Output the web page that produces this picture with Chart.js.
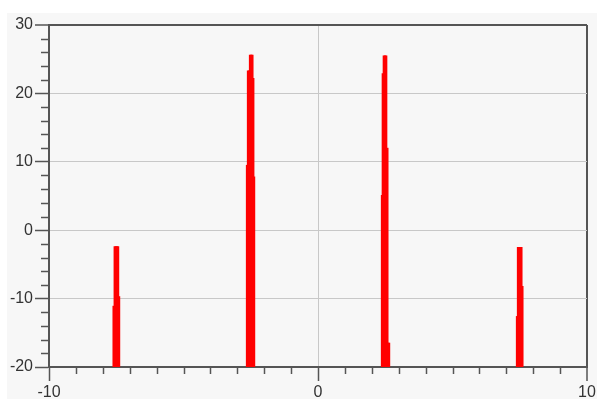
<!DOCTYPE html>
<html>
<head>
<meta charset="utf-8">
<script src="https://cdn.jsdelivr.net/npm/chart.js@4/dist/chart.umd.min.js"></script>
<style>
  html, body { margin: 0; padding: 0; background: #fff; }
  #wrap { position: relative; width: 597px; height: 399px; }
  #panel { position: absolute; left: 7px; top: 13px; right: 0; bottom: 0; background: #f7f7f7; }
  #c { position: absolute; left: 0; top: 0; }
</style>
</head>
<body>
<div id="wrap">
  <div id="panel"></div>
  <canvas id="c" width="597" height="399"></canvas>
</div>
<script>
// spike columns: x position and top value (each column rises from the bottom)
const spikeX = [
  -7.591, -7.550, -7.513, -7.476, -7.439, -7.402,
  -2.632, -2.595, -2.558, -2.520, -2.483, -2.446, -2.413, -2.383,
  2.386, 2.416, 2.454, 2.491, 2.528, 2.572, 2.609, 2.635,
  7.405, 7.442, 7.480, 7.517, 7.554, 7.591
];
const spikeTop = [
  -11.1, -2.4, -2.4, -2.4, -2.4, -9.7,
  9.5, 23.3, 23.3, 25.6, 25.6, 25.6, 22.2, 7.8,
  5.1, 22.9, 25.5, 25.5, 25.5, 12.0, -16.5, -16.5,
  -12.6, -2.5, -2.5, -2.5, -2.5, -8.2
];
const yBase = -20;

const xMin = -10, xMax = 10, xStep = 1;
const yMin = -20, yMax = 30, yStep = 2;
const xLabels = [-10, 0, 10];
const yLabels = [-20, -10, 0, 10, 20, 30];

const axisDark = '#555555';
const gridLight = '#c8c8c8';
const labelFont = { family: '"Liberation Sans", Arial, Helvetica, sans-serif', size: 16 };

// short minor ticks drawn from the scales' own tick positions
const minorTicks = {
  id: 'minorTicks',
  afterDraw(chart) {
    const ctx = chart.ctx;
    const xs = chart.scales.x, ys = chart.scales.y;
    ctx.save();
    ctx.strokeStyle = axisDark;
    ctx.lineWidth = 1.5;
    xs.ticks.forEach(t => {
      if (xLabels.includes(t.value)) return;
      const px = Math.round(xs.getPixelForValue(t.value)) + 0.5;
      ctx.beginPath();
      ctx.moveTo(px, ys.bottom);
      ctx.lineTo(px, ys.bottom + 7);
      ctx.stroke();
    });
    ys.ticks.forEach(t => {
      if (yLabels.includes(t.value)) return;
      const py = Math.round(ys.getPixelForValue(t.value)) + 0.5;
      ctx.beginPath();
      ctx.moveTo(xs.left - 8, py);
      ctx.lineTo(xs.left, py);
      ctx.stroke();
    });
    ctx.restore();
  }
};

new Chart(document.getElementById('c'), {
  type: 'bar',
  data: {
    datasets: [{
      data: spikeX.map((x, i) => ({ x: x, y: [yBase, spikeTop[i]] })),
      backgroundColor: '#ff0000',
      borderWidth: 0,
      barThickness: 2
    }]
  },
  options: {
    responsive: false,
    animation: false,
    layout: { padding: { top: 25, right: 10, left: 0, bottom: 0 } },
    plugins: { legend: { display: false }, tooltip: { enabled: false } },
    scales: {
      x: {
        type: 'linear',
        min: xMin, max: xMax,
        offset: false,
        ticks: {
          stepSize: xStep,
          autoSkip: false,
          maxRotation: 0,
          padding: 2,
          color: '#333',
          font: labelFont,
          callback: v => xLabels.includes(v) ? String(v) : ''
        },
        grid: {
          offset: false,
          tickLength: 14,
          color: c => c.tick && c.tick.value === 0 ? gridLight : (c.tick && c.tick.value === xMax ? axisDark : 'rgba(0,0,0,0)'),
          lineWidth: c => c.tick && c.tick.value === xMax ? 2 : 1,
          tickColor: c => c.tick && xLabels.includes(c.tick.value) ? axisDark : 'rgba(0,0,0,0)',
          tickWidth: 1.5
        },
        border: { color: axisDark, width: 2 },
        afterFit: s => { s.height = 32; s.paddingLeft = 0; s.paddingRight = 0; }
      },
      y: {
        min: yMin, max: yMax,
        ticks: {
          stepSize: yStep,
          autoSkip: false,
          padding: 2,
          color: '#333',
          font: labelFont,
          callback: v => yLabels.includes(v) ? String(v) : ''
        },
        grid: {
          tickLength: 14,
          color: c => {
            if (!c.tick) return 'rgba(0,0,0,0)';
            if (c.tick.value === yMax) return axisDark;
            if (c.tick.value === yMin) return 'rgba(0,0,0,0)';
            return yLabels.includes(c.tick.value) ? gridLight : 'rgba(0,0,0,0)';
          },
          lineWidth: c => c.tick && c.tick.value === yMax ? 2 : 1,
          tickColor: c => c.tick && yLabels.includes(c.tick.value) ? axisDark : 'rgba(0,0,0,0)',
          tickWidth: 1.5
        },
        border: { color: axisDark, width: 2 },
        afterFit: s => { s.width = 49; s.paddingTop = 0; s.paddingBottom = 0; }
      }
    }
  },
  plugins: [minorTicks]
});
</script>
</body>
</html>
